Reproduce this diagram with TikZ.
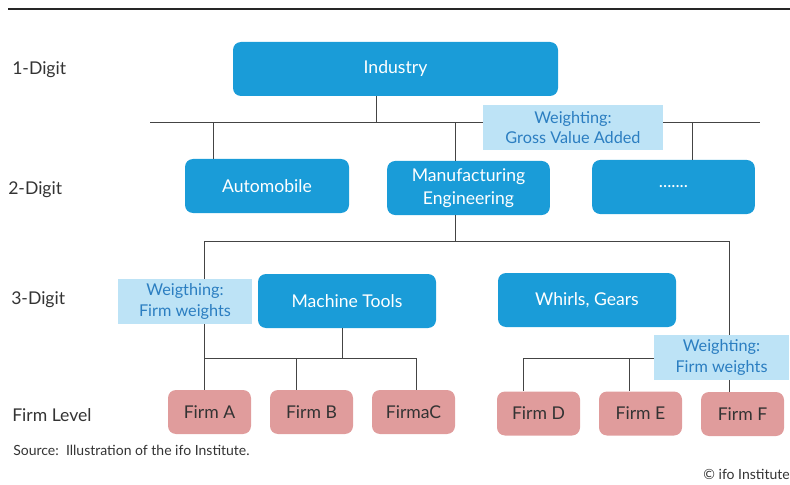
\documentclass[tikz,border=0pt]{standalone}
\usepackage{fontspec}
\setmainfont{Lato}
\definecolor{ifoblue}{HTML}{1A9CD8}
\definecolor{ifolight}{HTML}{BDE3F6}
\definecolor{ifotext}{HTML}{2B7EC1}
\definecolor{firmpink}{HTML}{E09C9C}
\definecolor{darktext}{HTML}{333333}
\definecolor{linegray}{HTML}{444444}
\newcommand{\boxfont}{\fontsize{13.2}{17}\selectfont}
\newcommand{\notefont}{\fontsize{12.2}{15.5}\selectfont}
\tikzset{
  catbox/.style={fill=ifoblue, text=white, rounded corners=6pt, minimum height=40.5pt,
    inner sep=2pt, align=center, font=\boxfont},
  firmbox/.style={fill=firmpink, text=darktext, rounded corners=6pt, minimum width=62.25pt,
    minimum height=33pt, inner sep=2pt, font=\boxfont},
  weightbox/.style={fill=ifolight, text=ifotext, minimum height=33.75pt, inner sep=1pt,
    align=center, font=\notefont},
  levellabel/.style={anchor=west, text=darktext, inner sep=0pt, font=\boxfont},
  notetext/.style={text=darktext, inner sep=0pt, font=\fontsize{10.5}{12}\selectfont},
  tree/.style={draw=linegray, line width=0.75pt}
}

\begin{document}
\begin{tikzpicture}[x=0.75pt,y=-0.75pt]
  \useasboundingbox (0,0) rectangle (790,485);
  \draw [line width=1.6pt, draw=black!85] (8,9) -- (790,9);

  \node [levellabel] (lvl1) at (12,70) {1-Digit};
  \node [levellabel] (lvl2) at (8,190) {2-Digit};
  \node [levellabel] (lvl3) at (11,300) {3-Digit};
  \node [levellabel] (lvlfirm) at (12,415) {Firm Level};

  \node [catbox, minimum width=243.75pt] (industry) at (395.5,69) {Industry};
  \node [catbox, minimum width=123pt] (auto) at (267,186) {Automobile};
  \node [catbox, minimum width=122pt] (manuf) at (468.5,188) {Manufacturing\\Engineering};
  \node [catbox, minimum width=122pt] (more) at (673.5,187) {.......};
  \node [catbox, minimum width=133.5pt] (tools) at (347,301) {Machine Tools};
  \node [catbox, minimum width=133.5pt] (gears) at (587,300) {Whirls, Gears};

  \node [firmbox] (firmA) at (209.5,412) {Firm A};
  \node [firmbox] (firmB) at (311.5,412) {Firm B};
  \node [firmbox] (firmC) at (413.5,412) {FirmaC};
  \node [firmbox] (firmD) at (538.5,413.5) {Firm D};
  \node [firmbox] (firmE) at (640.5,413.5) {Firm E};
  \node [firmbox] (firmF) at (742.5,414) {Firm F};

  \coordinate (bus1L) at (150,123);
  \coordinate (bus1R) at (760,123);
  \coordinate (tapInd) at (376,123);
  \coordinate (tapAuto) at (213,123);
  \coordinate (tapManuf) at (455,123);
  \coordinate (tapMore) at (692,123);
  \draw [tree] (bus1L) -- (bus1R);
  \draw [tree] (tapInd |- industry.south) -- (tapInd);
  \draw [tree] (tapAuto) -- (tapAuto |- auto.north);
  \draw [tree] (tapManuf) -- (tapManuf |- manuf.north);
  \draw [tree] (tapMore) -- (tapMore |- more.north);

  \coordinate (bus2L) at (204,241);
  \coordinate (bus2M) at (455,241);
  \coordinate (bus2R) at (729,241);
  \draw [tree] (bus2M |- manuf.south) -- (bus2M);
  \draw [tree] (bus2L) -- (bus2R);
  \draw [tree] (bus2L) -- (bus2L |- firmA.north);
  \draw [tree] (bus2R) -- (bus2R |- firmF.north);

  \coordinate (bus3M) at (342,358);
  \coordinate (bus3R) at (416,358);
  \coordinate (tapB) at (296,358);
  \draw [tree] (bus3M |- tools.south) -- (bus3M);
  \draw [tree] (bus2L |- bus3M) -- (bus3R);
  \draw [tree] (tapB) -- (tapB |- firmB.north);
  \draw [tree] (bus3R) -- (bus3R |- firmC.north);

  \coordinate (bus4L) at (523,358);
  \coordinate (tapE) at (629,358);
  \draw [tree] (bus4L) -- (bus2R |- bus4L);
  \draw [tree] (bus4L) -- (bus4L |- firmD.north);
  \draw [tree] (tapE) -- (tapE |- firmE.north);

  \node [weightbox, minimum width=135pt] (gva) at (573,127.5) {Weighting:\\Gross Value Added};
  \node [weightbox, minimum width=100.5pt] (fwleft) at (185,301.5) {Weigthing:\\Firm weights};
  \node [weightbox, minimum width=101pt] (fwright) at (721.5,357.5) {Weighting:\\Firm weights};

  \node [notetext, anchor=west] (source) at (13,450) {Source:\ \ Illustration of the ifo Institute.};
  \node [notetext, anchor=east] (copy) at (790,474) {© ifo Institute};
\end{tikzpicture}
\end{document}
